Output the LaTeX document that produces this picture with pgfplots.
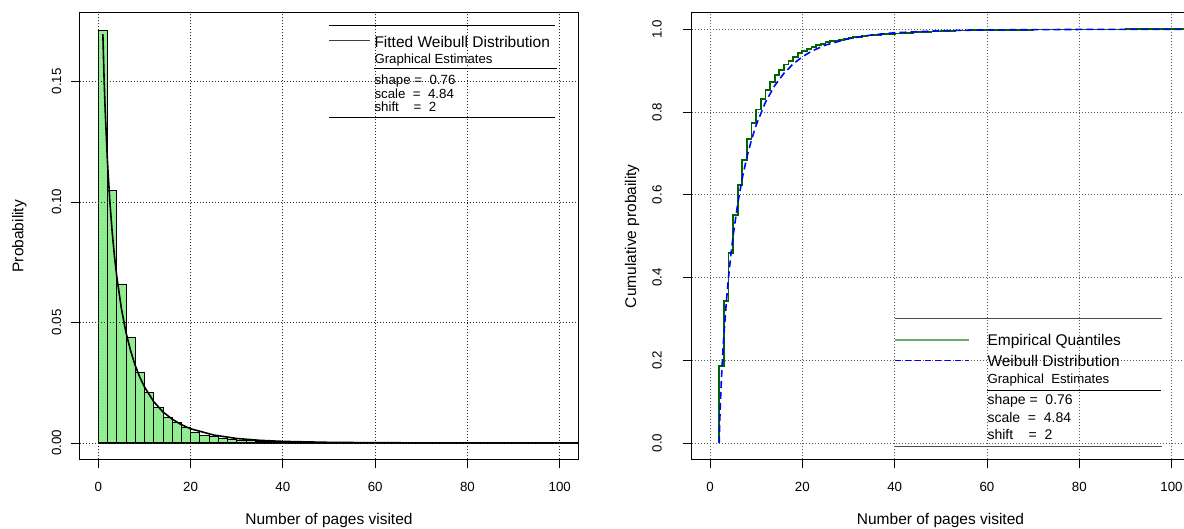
\documentclass[border=0pt]{standalone}
\usepackage{fontspec}
\setmainfont{Liberation Sans}
\usepackage{pgfplots}
\pgfplotsset{compat=1.18}
\definecolor{lgreen}{HTML}{90EE90}
\definecolor{dgreen}{RGB}{0,100,0}
\definecolor{sgreen}{RGB}{106,170,106}
\newcommand{\fsz}[1]{\fontsize{#1}{#1}\selectfont}
\pgfplotsset{rstyle/.style={
  scale only axis, width=498.4pt, height=446.7pt,
  xmin=-4, xmax=104,
  xtick={0,20,40,60,80,100}, xticklabels={0,20,40,60,80,100},
  tick pos=left,
  tick align=outside, major tick length=9pt,
  minor tick num=0,
  tick style={black, line width=0.8pt},
  axis line style={line width=0.8pt},
  grid=major,
  ticklabel style={font=\fsz{13.3}, inner sep=0pt},
  xticklabel style={anchor=north},
  yticklabel style={rotate=90, anchor=south},
  xticklabel shift=13.2pt,
}}
\begin{document}
\begin{tikzpicture}[x=1pt,y=1pt]
\useasboundingbox (0,0) rectangle (1184,529);
% ---------------- left panel ----------------
\begin{axis}[rstyle, at={(79.8pt,69.5pt)}, anchor=south west,
  ymin=-0.00686, ymax=0.17846,
  ytick={0,0.05,0.1,0.15}, yticklabels={0.00,0.05,0.10,0.15},
  yticklabel shift=9.4pt,
  axis on top,
  major grid style={black!85, dash pattern=on 1pt off 2pt, line width=0.8pt}]
\addplot[ybar interval, fill=lgreen, draw=black, line width=0.7pt] coordinates {
(0,0.1713) (2,0.1047) (4,0.0660) (6,0.0439) (8,0.0291) (10,0.0208)
(12,0.0146) (14,0.0105) (16,0.0086) (18,0.0064) (20,0.0046) (22,0.0030)
(24,0.0027) (26,0.0018) (28,0.0013) (30,0.0011) (32,0.0009) (34,0.0007)
(36,0.0005) (38,0.0004) (40,0.0003) (42,0.0003) (44,0.0002) (46,0.0002)
(48,0.0001) (50,0.0001) (52,0.0001) (54,0) };
\addplot[black, line width=1.6pt] coordinates {(0,0) (104,0)};
\addplot[black, line width=1.6pt] coordinates {
(1,0.1696) (1.25,0.1520) (1.5,0.1380) (2,0.1165) (2.5,0.1005) (3,0.0879)
(3.5,0.0777) (4,0.0692) (5,0.0559) (6,0.0459) (7,0.0383) (8,0.0322)
(9,0.0273) (10,0.0233) (12,0.0172) (14,0.0129) (16,0.0099) (18,0.0076)
(20,0.0059) (25,0.0033) (30,0.00185) (35,0.00109) (40,0.00065)
(50,0.00025) (60,0.0001) (70,0.00004) (80,0.00002) (100,0) };
\end{axis}
% ---------------- right panel ----------------
\begin{axis}[rstyle, at={(691.6pt,69.5pt)}, anchor=south west,
  ymin=-0.04, ymax=1.04,
  ytick={0,0.2,0.4,0.6,0.8,1}, yticklabels={0.0,0.2,0.4,0.6,0.8,1.0},
  yticklabel shift=20.7pt,
  major grid style={black!65, dash pattern=on 1pt off 2pt, line width=0.8pt}]
\addplot[const plot, dgreen, line width=1.8pt] coordinates {
(2,0) (2,0.1855) (3,0.343) (4,0.460) (5,0.552) (6,0.623) (7,0.684)
(8,0.734) (9,0.773) (10,0.806) (11,0.831) (12,0.854) (13,0.873)
(14,0.890) (15,0.902) (16,0.915) (17,0.924) (18,0.934) (19,0.942)
(20,0.948) (21,0.953) (22,0.958) (23,0.962) (24,0.965) (25,0.969)
(26,0.971) (27,0.973) (28,0.975) (29,0.977) (30,0.979) (31,0.981)
(32,0.982) (33,0.984) (34,0.985) (35,0.986) (36,0.987) (37,0.988)
(38,0.989) (40,0.990) (42,0.992) (44,0.993) (46,0.994) (48,0.995)
(50,0.996) (53,0.997) (56,0.998) (60,0.9985) (65,0.999) (70,0.9994)
(80,0.9997) (90,1.0) (110,1.0) };
\addplot[blue, line width=1.6pt, dash pattern=on 7pt off 4pt] coordinates {
(2,0) (2.05,0.0305) (2.1,0.0511) (2.2,0.0849) (2.4,0.1396) (2.6,0.1850)
(2.8,0.2248) (3,0.2604) (3.5,0.3367) (4,0.4000) (4.5,0.4541) (5,0.5010)
(6,0.5790) (7,0.6412) (8,0.6919) (9,0.7338) (10,0.7689) (12,0.8237)
(14,0.8639) (16,0.8937) (18,0.9163) (20,0.9337) (22,0.9471) (25,0.9620)
(30,0.9775) (35,0.9864) (40,0.9917) (50,0.9967) (60,0.99864)
(80,0.99974) (110,1.0) };
\end{axis}
% axis titles
\node[rotate=90, font=\fsz{15.5}] at (19.4,292.8) {Probability};
\node[rotate=90, font=\fsz{15.5}] at (632.2,292.8) {Cumulative probaility};
\node[anchor=base, font=\fsz{15.5}, inner sep=0pt] at (329,4) {Number of pages visited};
\node[anchor=base, font=\fsz{15.5}, inner sep=0pt] at (940.5,4) {Number of pages visited};
% left legend
\draw[black, line width=0.8pt] (329.3,504) -- (555,504);
\draw[black!75, line width=0.9pt] (329.3,489) -- (370,489);
\node[anchor=base west, inner sep=0pt, font=\fsz{15.5}] at (374.3,481.8) {Fitted Weibull Distribution};
\node[anchor=base west, inner sep=0pt, font=\fsz{13.2}] at (374.3,465.3) {Graphical Estimates};
\draw[black, line width=0.8pt] (374.3,460.7) -- (557,460.7);
\node[anchor=base west, inner sep=0pt, font=\fsz{13.3}] at (374.3,444.2) {shape =\ \ 0.76};
\node[anchor=base west, inner sep=0pt, font=\fsz{13.3}] at (374.3,430.9) {scale\ \ =\ \ 4.84};
\node[anchor=base west, inner sep=0pt, font=\fsz{13.3}] at (374.3,417.6) {shift\ \ \ \ =\ \ 2};
\draw[black, line width=0.8pt] (329.3,411.7) -- (555,411.7);
% right legend
\draw[black!70, line width=1.5pt] (895,210.7) -- (1161.7,210.7);
\draw[sgreen, line width=1.3pt] (895,189) -- (969.3,189);
\draw[blue, line width=1.3pt, dash pattern=on 6pt off 4pt] (895,168.3) -- (969.3,168.3);
\node[anchor=base west, inner sep=0pt, font=\fsz{15.5}] at (987.3,183.5) {Empirical Quantiles};
\node[anchor=base west, inner sep=0pt, font=\fsz{15.5}] at (987.3,162.8) {Weibull Distribution};
\node[anchor=base west, inner sep=0pt, font=\fsz{13.2}] at (987.3,145) {Graphical\ \ Estimates};
\draw[black, line width=0.8pt] (987.3,139) -- (1161,139);
\node[anchor=base west, inner sep=0pt, font=\fsz{14}] at (987.3,124) {shape =\ \ 0.76};
\node[anchor=base west, inner sep=0pt, font=\fsz{14}] at (987.3,106.5) {scale\ \ =\ \ 4.84};
\node[anchor=base west, inner sep=0pt, font=\fsz{14}] at (987.3,89) {shift\ \ \ \ =\ \ 2};
\draw[black!70, line width=1.5pt] (895,82.3) -- (1161.7,82.3);
\end{tikzpicture}
\end{document}
